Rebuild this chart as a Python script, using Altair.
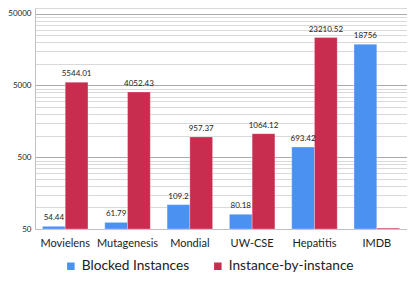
import altair as alt
import pandas as pd

categories = ["Movielens", "Mutagenesis", "Mondial", "UW-CSE", "Hepatitis", "IMDB"]
series = ["Blocked Instances", "Instance-by-instance"]
blocked = [54.44, 61.79, 109.2, 80.18, 693.42, 18756]
inst = [5544.01, 4052.43, 957.37, 1064.12, 23210.52, 51.5]
blocked_labels = ["54.44", "61.79", "109.2", "80.18", "693.42", "18756"]
inst_labels = ["5544.01", "4052.43", "957.37", "1064.12", "23210.52", ""]
axis_min = 50
axis_max = 60000
major_ticks = [50, 500, 5000, 50000]
minor_mult = [1, 2, 3, 4, 5, 6, 7, 8, 9]
colors = ["#4A91F2", "#C82C4E"]

rows = []
for i, c in enumerate(categories):
    rows.append({"cat": c, "series": series[0], "value": blocked[i], "base": axis_min, "label": blocked_labels[i]})
    rows.append({"cat": c, "series": series[1], "value": inst[i], "base": axis_min, "label": inst_labels[i]})
df = pd.DataFrame(rows)

tick_vals = []
for d in major_ticks[:-1]:
    for m in minor_mult:
        tick_vals.append(d * m)
tick_vals += [50000, axis_max]

major_test = " || ".join(f"datum.value == {v}" for v in major_ticks)

x = alt.X("cat:N", sort=categories, title=None,
          scale=alt.Scale(paddingInner=0.27, paddingOuter=0.12),
          axis=alt.Axis(labelAngle=0, labelFontSize=11, labelPadding=8, ticks=False,
                        domainColor="#bfbfbf", labelColor="#222222", grid=False,
                        labelFont="Lato"))
y = alt.Y("value:Q", title=None,
          scale=alt.Scale(type="log", domain=[axis_min, axis_max]),
          axis=alt.Axis(values=tick_vals,
                        labelExpr=f"({major_test}) ? datum.value : ''",
                        labelFontSize=8, labelPadding=4, ticks=False,
                        domainColor="#c0c0c0", labelColor="#222222",
                        labelFont="Lato",
                        gridColor={"condition": {"test": major_test, "value": "#ababab"},
                                   "value": "#d9d9d9"}))
xo = alt.XOffset("series:N", sort=series, scale=alt.Scale(paddingInner=0, paddingOuter=0))

base = alt.Chart(df)
bars = base.mark_bar(strokeWidth=0.8, strokeOpacity=0.35, stroke="white").encode(
    x=x, y=y, y2=alt.Y2("base:Q"), xOffset=xo,
    color=alt.Color("series:N", sort=series,
                    scale=alt.Scale(domain=series, range=colors),
                    legend=alt.Legend(title=None, orient="none", legendX=29, legendY=251,
                                      direction="horizontal", symbolType="square",
                                      symbolSize=81, labelFontSize=13.7, labelFont="Lato",
                                      labelColor="#222222", columnPadding=20,
                                      labelOffset=4, padding=0)),
)
text = base.mark_text(baseline="bottom", dy=-4, fontSize=8, font="Lato", color="#222222").encode(
    x=x, y=y, xOffset=xo, text="label:N"
)

chart = alt.layer(bars, text).properties(
    width=372, height=221,
    autosize=alt.AutoSizeParams(type="none"),
    padding={"left": 27, "top": 0, "right": 0, "bottom": 44},
).configure_view(stroke=None)

chart.save("out.html", embed_options={"renderer": "svg", "actions": False})
